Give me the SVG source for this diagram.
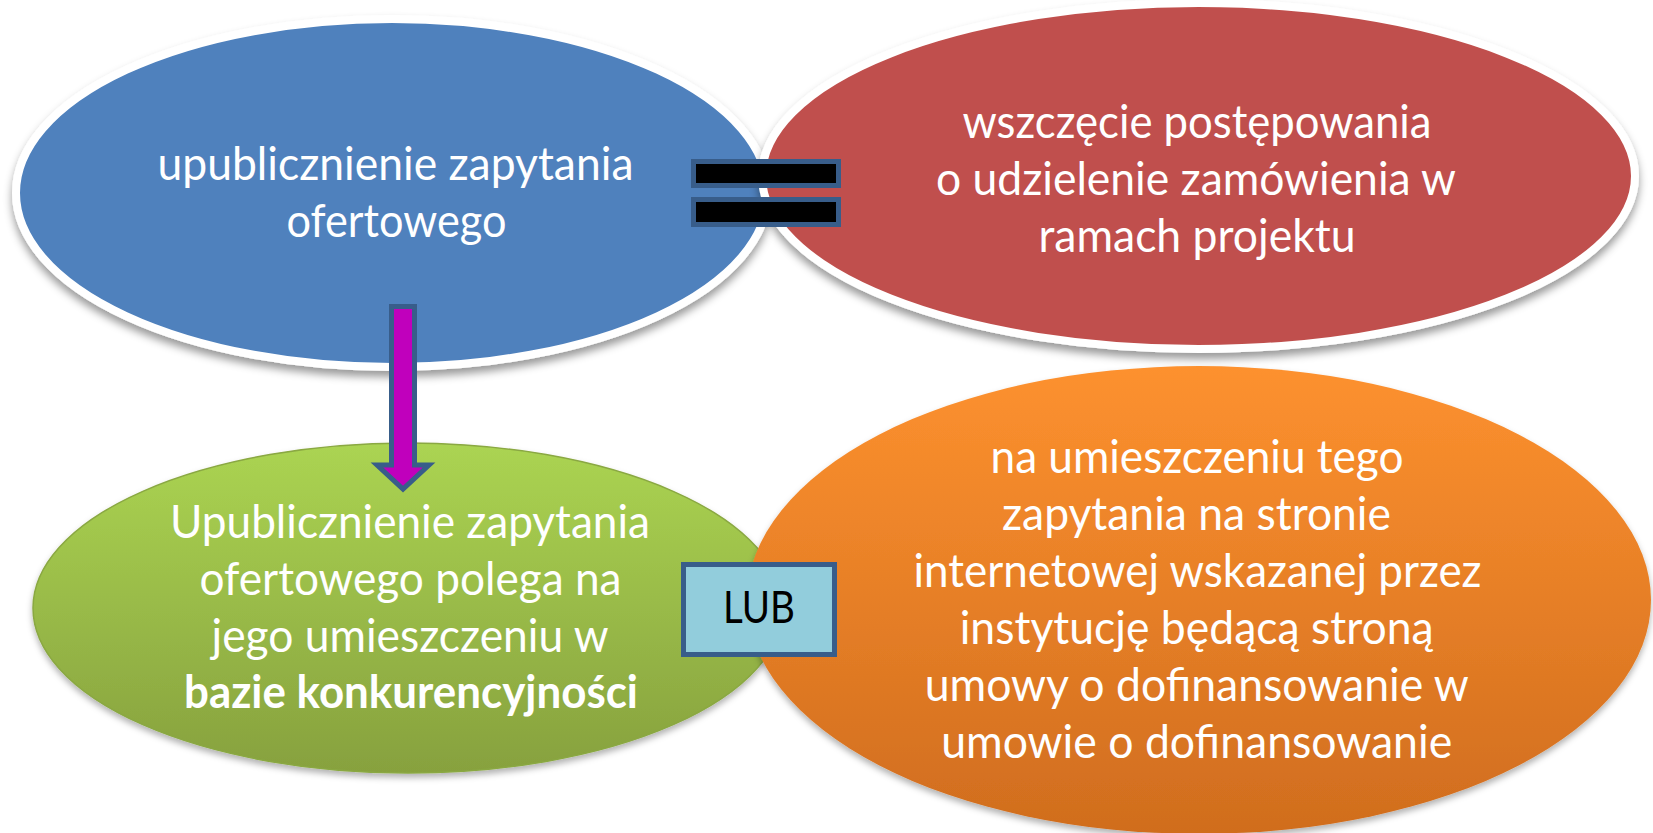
<svg xmlns="http://www.w3.org/2000/svg" width="1653" height="833" viewBox="0 0 1653 833">
<defs>
<filter id="sh" x="-10%" y="-10%" width="120%" height="130%">
<feDropShadow dx="0" dy="6" stdDeviation="4" flood-color="#000" flood-opacity="0.4"/>
</filter>
<filter id="sh2" x="-10%" y="-10%" width="120%" height="130%">
<feDropShadow dx="0" dy="4" stdDeviation="3" flood-color="#000" flood-opacity="0.3"/>
</filter>
<linearGradient id="gGreen" x1="0" y1="0" x2="0" y2="1">
<stop offset="0" stop-color="#abd452"/>
<stop offset="1" stop-color="#87a13e"/>
</linearGradient>
<linearGradient id="gOrange" x1="0" y1="0" x2="0" y2="1">
<stop offset="0" stop-color="#fd912f"/>
<stop offset="1" stop-color="#d06d1e"/>
</linearGradient>
<style>
.t{font-family:Lato,"Liberation Sans",sans-serif;font-size:46px;fill:#fff;text-anchor:middle}
.b{font-weight:bold}
.bar{fill:#000;stroke:#385d8a;stroke-width:5}
</style>
</defs>
<rect width="1653" height="833" fill="#fff"/>
<g id="blue">
<ellipse cx="392" cy="193" rx="376" ry="174" fill="#4f81bd" stroke="#fff" stroke-width="8" filter="url(#sh)"/>
<text class="t" x="395.5" y="180" textLength="476" lengthAdjust="spacingAndGlyphs">upublicznienie zapytania</text>
<text class="t" x="396.5" y="237" textLength="220" lengthAdjust="spacingAndGlyphs">ofertowego</text>
</g>
<g id="red">
<ellipse cx="1198.5" cy="176" rx="436.5" ry="173" fill="#c0504d" stroke="#fff" stroke-width="8" filter="url(#sh)"/>
<text class="t" x="1197" y="138" textLength="469" lengthAdjust="spacingAndGlyphs">wszczęcie postępowania</text>
<text class="t" x="1196" y="195" textLength="520" lengthAdjust="spacingAndGlyphs">o udzielenie zamówienia w</text>
<text class="t" x="1197" y="252" textLength="317" lengthAdjust="spacingAndGlyphs">ramach projektu</text>
</g>
<g id="green">
<ellipse cx="408" cy="608" rx="375" ry="165" fill="url(#gGreen)" stroke="#8aa842" stroke-width="1.5" filter="url(#sh2)"/>
<text class="t" x="410" y="538" textLength="480" lengthAdjust="spacingAndGlyphs">Upublicznienie zapytania</text>
<text class="t" x="410.5" y="595" textLength="422" lengthAdjust="spacingAndGlyphs">ofertowego polega na</text>
<text class="t" x="410" y="652" textLength="397" lengthAdjust="spacingAndGlyphs">jego umieszczeniu w</text>
<text class="t b" x="411" y="708" textLength="454" lengthAdjust="spacingAndGlyphs">bazie konkurencyjności</text>
</g>
<g id="orange">
<ellipse cx="1199" cy="600" rx="452" ry="234" fill="url(#gOrange)" filter="url(#sh2)"/>
<text class="t" x="1197" y="473" textLength="413" lengthAdjust="spacingAndGlyphs">na umieszczeniu tego</text>
<text class="t" x="1196.5" y="530" textLength="389" lengthAdjust="spacingAndGlyphs">zapytania na stronie</text>
<text class="t" x="1197.5" y="587" textLength="568" lengthAdjust="spacingAndGlyphs">internetowej wskazanej przez</text>
<text class="t" x="1196.7" y="644" textLength="474" lengthAdjust="spacingAndGlyphs">instytucję będącą stroną</text>
<text class="t" x="1196.7" y="701" textLength="544" lengthAdjust="spacingAndGlyphs">umowy o dofinansowanie w</text>
<text class="t" x="1196.7" y="758" textLength="511" lengthAdjust="spacingAndGlyphs">umowie o dofinansowanie</text>
</g>
<g id="connectors">
<path d="M391.5,306.5 H414.5 V465 H429 L403,489 L377,465 H391.5 Z" fill="#c000bc" stroke="#385d8a" stroke-width="5" stroke-linejoin="miter"/>
</g>
<g id="equals">
<rect class="bar" x="693.5" y="161.5" width="145" height="24"/>
<rect class="bar" x="693.5" y="199.5" width="145" height="25"/>
</g>
<g id="lub">
<rect x="683.5" y="564.5" width="151" height="90" fill="#92cddc" stroke="#385d8a" stroke-width="5"/>
<text x="759" y="623" textLength="72" lengthAdjust="spacingAndGlyphs" style="font-family:Lato,'Liberation Sans',sans-serif;font-size:44px;fill:#000;text-anchor:middle">LUB</text>
</g>
</svg>
